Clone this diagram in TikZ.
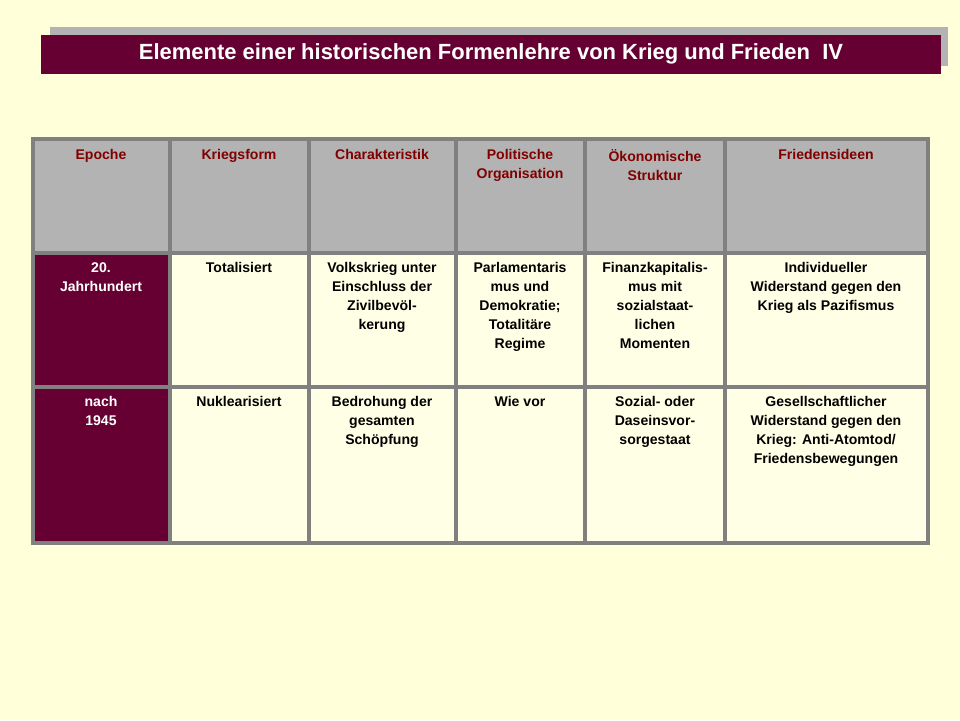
\documentclass[tikz,border=0pt]{standalone}
\usepackage{fontspec}
\setmainfont{Liberation Sans}
\definecolor{bg}{HTML}{FFFFD9}
\definecolor{maroon}{HTML}{660033}
\definecolor{hdr}{HTML}{B3B3B3}
\definecolor{hdrtxt}{HTML}{800000}
\definecolor{cell}{HTML}{FFFFE6}
\definecolor{grid}{HTML}{808080}
\tikzset{
  txt/.style={anchor=north,align=center,inner sep=0pt,
    font=\fontsize{8}{10.8}\selectfont\bfseries},
  htxt/.style={txt,text=hdrtxt},
  etxt/.style={txt,text=white}
}
\begin{document}
\begin{tikzpicture}[x=0.02cm,y=-0.02cm]
\useasboundingbox[fill=bg] (0,0) rectangle (960,720);
% title
\fill[hdr] (50,27) rectangle (948,66);
\fill[maroon] (41,35) rectangle (941,74);
\node (title) [text=white,font=\fontsize{12.5}{15}\selectfont\bfseries]
  at (491,54) {Elemente einer historischen Formenlehre von Krieg und Frieden\ \ IV};
% table
\fill[hdr] (33,139) rectangle (928,253);
\fill[cell] (170,253) rectangle (928,543);
\fill[maroon] (33,253) rectangle (170,543);
\draw[grid,line width=2.5pt] (33,139) rectangle (928,543);
\foreach \x in {170,309,456,585,725}
  \draw[grid,line width=2.5pt] (\x,139) -- (\x,543);
\foreach \y in {253,387}
  \draw[grid,line width=2.5pt] (33,\y) -- (928,\y);
% header
\node (ep) [htxt] at (101,149) {Epoche};
\node (kf) [htxt] at (239,149) {Kriegsform};
\node (ch) [htxt] at (382,149) {Charakteristik};
\node (po) [htxt] at (520,149) {Politische\\Organisation};
\node (os) [htxt] at (655,149) {Ökonomische\\Struktur};
\node (fi) [htxt] at (826,149) {Friedensideen};
% row 1
\node (e1) [etxt] at (101,262) {20.\\Jahrhundert};
\node (k1) [txt] at (239,262) {Totalisiert};
\node (c1) [txt] at (382,262) {Volkskrieg unter\\Einschluss der\\Zivilbevöl-\\kerung};
\node (p1) [txt] at (520,262) {Parlamentaris\\mus und\\Demokratie;\\Totalitäre\\Regime};
\node (o1) [txt] at (655,262) {Finanzkapitalis-\\mus mit\\sozialstaat-\\lichen\\Momenten};
\node (f1) [txt] at (826,262) {Individueller\\Widerstand gegen den\\Krieg als Pazifismus};
% row 2
\node (e2) [etxt] at (101,396) {nach\\1945};
\node (k2) [txt] at (239,396) {Nuklearisiert};
\node (c2) [txt] at (382,396) {Bedrohung der\\gesamten\\Schöpfung};
\node (p2) [txt] at (520,396) {Wie vor};
\node (o2) [txt] at (655,396) {Sozial- oder\\Daseinsvor-\\sorgestaat};
\node (f2) [txt] at (826,396) {Gesellschaftlicher\\Widerstand gegen den\\Krieg: Anti-Atomtod/\\Friedensbewegungen};
\end{tikzpicture}
\end{document}
